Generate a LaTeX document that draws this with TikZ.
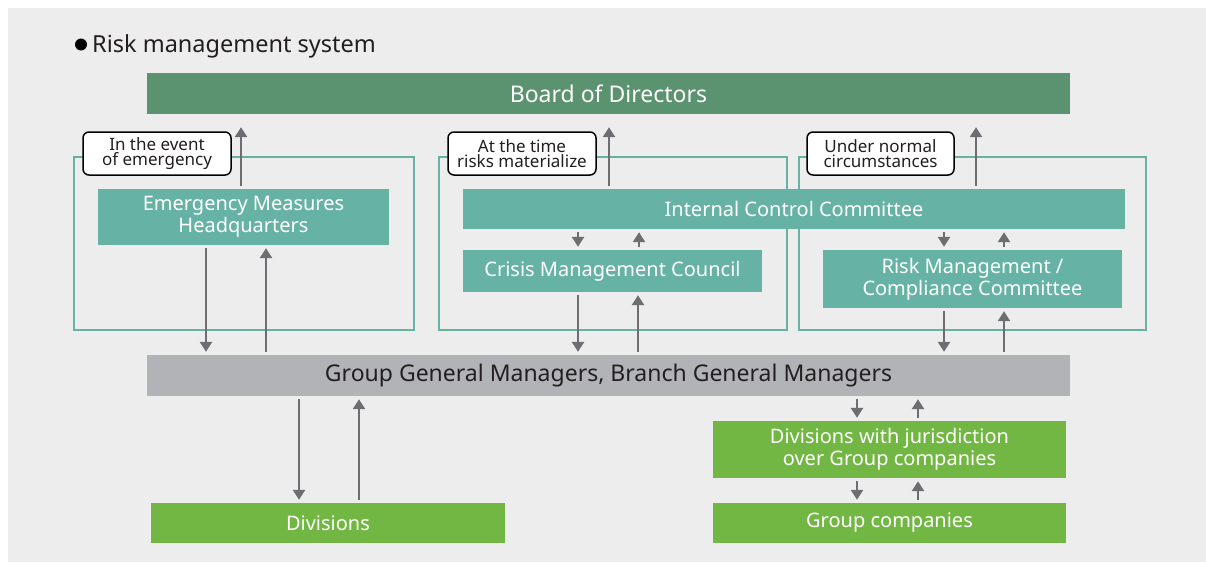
\documentclass[tikz,border=0pt]{standalone}
\usepackage{fontspec}
\setmainfont{Noto Sans}
\usetikzlibrary{arrows.meta}
\definecolor{bgc}{RGB}{237,237,237}
\definecolor{boardc}{RGB}{91,146,112}
\definecolor{tealc}{RGB}{102,179,165}
\definecolor{ggmc}{RGB}{178,179,182}
\definecolor{greenc}{RGB}{114,183,67}
\definecolor{arrc}{RGB}{109,110,113}
\definecolor{txtc}{RGB}{35,31,32}
\tikzset{
  boxbase/.style={inner sep=0pt, align=center, text=white, font=\fontsize{20}{22}\selectfont},
  tealbox/.style={boxbase, fill=tealc},
  greenbox/.style={boxbase, fill=greenc},
  framebox/.style={draw=tealc, line width=2pt},
  tagbox/.style={draw=black, line width=1.5pt, fill=white, rounded corners=6pt, inner sep=0pt,
     align=center, text=txtc, font=\fontsize{17}{15}\selectfont},
  arr/.style={draw=arrc, line width=2.5pt, -{Triangle[width=12pt,length=10pt]},
     shorten <=3pt, shorten >=3pt},
}
\begin{document}
\begin{tikzpicture}[x=1pt,y=-1pt]
\useasboundingbox (0,0) rectangle (1206,562);
\fill[bgc] (8,8) rectangle (1206,562);
% title
\fill[black] (81,44.5) circle (6);
\node[anchor=base west, inner sep=0pt, text=txtc, font=\fontsize{23.5}{26}\selectfont] (title) at (92,52) {Risk management system};
% frames
\draw[framebox] (74,156.5) rectangle (413.5,329.5);
\draw[framebox] (438.5,156.5) rectangle (786.5,329.5);
\draw[framebox] (798.5,156.5) rectangle (1146,329.5);
% boards
\node[boxbase, fill=boardc, minimum width=923pt, minimum height=41pt, font=\fontsize{23}{26}\selectfont] (board) at (608.5,93.5) {Board of Directors};
\node[boxbase, fill=ggmc, text=txtc, minimum width=923pt, minimum height=41pt, font=\fontsize{23}{26}\selectfont] (ggm) at (608.5,375.5) {Group General Managers, Branch General Managers};
% tags
\node[tagbox, minimum width=148pt, minimum height=43pt] (t1) at (157,153.5) {In the event\\of emergency};
\node[tagbox, minimum width=148pt, minimum height=43pt] (t2) at (522,153.5) {At the time\\risks materialize};
\node[tagbox, minimum width=147pt, minimum height=43pt] (t3) at (880.5,153.5) {Under normal\\circumstances};
% teal boxes
\node[tealbox, minimum width=291pt, minimum height=56pt] (emhq) at (243.5,217) {Emergency Measures\\Headquarters};
\node[tealbox, minimum width=662pt, minimum height=40pt] (icc) at (794,209) {Internal Control Committee};
\node[tealbox, minimum width=299pt, minimum height=42pt] (cmc) at (612.5,271) {Crisis Management Council};
\node[tealbox, minimum width=299pt, minimum height=58pt] (rmc) at (972.5,279) {Risk Management /\\Compliance Committee};
% green boxes
\node[greenbox, minimum width=354pt, minimum height=40pt] (div) at (328,523) {Divisions};
\node[greenbox, minimum width=353pt, minimum height=57pt] (divj) at (889.5,449.5) {Divisions with jurisdiction\\over Group companies};
\node[greenbox, minimum width=353pt, minimum height=40pt] (grp) at (889.5,523) {Group companies};
% arrows to board
\draw[arr, shorten >=13pt] (241,0 |- emhq.north) -- (241,0 |- board.south);
\draw[arr, shorten >=13pt] (609,0 |- icc.north) -- (609,0 |- board.south);
\draw[arr, shorten >=13pt] (976,0 |- icc.north) -- (976,0 |- board.south);
% emhq <-> ggm
\draw[arr] (206,0 |- emhq.south) -- (206,0 |- ggm.north);
\draw[arr] (266,0 |- ggm.north) -- (266,0 |- emhq.south);
% icc <-> cmc
\draw[arr] (578,0 |- icc.south) -- (578,0 |- cmc.north);
\draw[arr] (639,0 |- cmc.north) -- (639,0 |- icc.south);
% cmc <-> ggm
\draw[arr] (578,0 |- cmc.south) -- (578,0 |- ggm.north);
\draw[arr] (638,0 |- ggm.north) -- (638,0 |- cmc.south);
% icc <-> rmc
\draw[arr] (944,0 |- icc.south) -- (944,0 |- rmc.north);
\draw[arr] (1004,0 |- rmc.north) -- (1004,0 |- icc.south);
% rmc <-> ggm
\draw[arr] (944,0 |- rmc.south) -- (944,0 |- ggm.north);
\draw[arr] (1004,0 |- ggm.north) -- (1004,0 |- rmc.south);
% ggm <-> div
\draw[arr] (299,0 |- ggm.south) -- (299,0 |- div.north);
\draw[arr] (359,0 |- div.north) -- (359,0 |- ggm.south);
% ggm <-> divj
\draw[arr] (857,0 |- ggm.south) -- (857,0 |- divj.north);
\draw[arr] (918,0 |- divj.north) -- (918,0 |- ggm.south);
% divj <-> grp
\draw[arr] (857,0 |- divj.south) -- (857,0 |- grp.north);
\draw[arr] (918,0 |- grp.north) -- (918,0 |- divj.south);
\end{tikzpicture}
\end{document}
